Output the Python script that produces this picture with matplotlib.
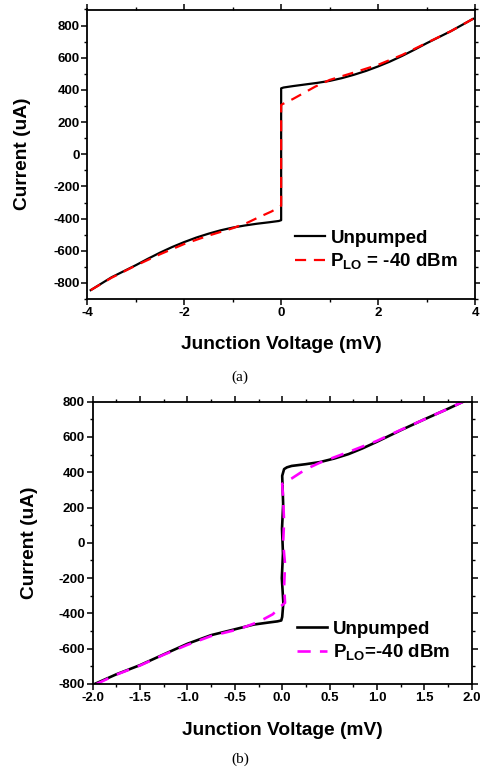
import numpy as np
import matplotlib.pyplot as plt
from matplotlib.ticker import MultipleLocator

# panel (a): junction I-V, unpumped vs LO pumped
va_unpumped = [-3.93, -3.5, -3.0, -2.75, -2.5, -2.25, -2.0, -1.75, -1.5, -1.25, -1.0,
               -0.75, -0.5, -0.25, -0.05, 0.0,
               0.0, 0.05, 0.25, 0.5, 0.75, 1.0, 1.25, 1.5, 1.75, 2.0, 2.25, 2.5, 2.75,
               3.0, 3.5, 3.96]
ia_unpumped = [-845, -765, -690, -650, -612, -577, -546, -518, -494, -473, -456,
               -443, -432, -423, -415, -410,
               410, 415, 424, 434, 444, 456, 473, 494, 518, 546, 577, 612, 650,
               690, 765, 842]
va_pumped = [-3.93, -3.5, -3.0, -2.5, -2.0, -1.5, -1.0, -0.7, -0.45, -0.2, -0.03, 0.0,
             0.0, 0.03, 0.24, 0.45, 0.7, 1.0, 1.5, 2.0, 2.5, 3.0, 3.5, 3.96]
ia_pumped = [-845, -768, -692, -622, -558, -506, -460, -426, -390, -356, -327, -320,
             306, 312, 343, 378, 420, 462, 508, 556, 618, 692, 765, 842]

# panel (b)
vb_unpumped = [-1.98, -1.75, -1.5, -1.25, -1.0, -0.75, -0.5, -0.3, -0.15, -0.05, -0.01,
               0.0, 0.012, -0.004, 0.008, -0.002, 0.01, 0.0, 0.02, 0.05, 0.1, 0.25, 0.4,
               0.55, 0.7, 0.85, 1.0, 1.25, 1.5, 1.75, 1.91]
ib_unpumped = [-800, -745, -693, -632, -572, -523, -490, -463, -452, -445, -440,
               -420, -340, -200, -60, 80, 220, 380, 418, 428, 436, 446, 458,
               478, 503, 536, 573, 638, 700, 760, 800]
vb_pumped = [-1.96, -1.75, -1.5, -1.25, -1.0, -0.75, -0.5, -0.4, -0.25, -0.1, -0.02,
             0.03, 0.02, 0.03, 0.01, 0.02, 0.01, 0.0, 0.1, 0.2, 0.3, 0.4, 0.5,
             0.7, 1.0, 1.25, 1.5, 1.75, 1.91]
ib_pumped = [-800, -747, -695, -634, -578, -528, -495, -478, -448, -405, -362,
             -340, -250, -120, 0, 120, 250, 335, 365, 400, 430, 455, 475,
             515, 578, 640, 700, 760, 800]

plt.rcParams['font.family'] = ['Liberation Sans', 'DejaVu Sans']
plt.rcParams['font.weight'] = 'bold'
plt.rcParams['axes.unicode_minus'] = False

fig = plt.figure(figsize=(4.8, 7.72), dpi=100)
W, H = 480.0, 772.0


def style_axes(ax, tick_fs):
    for s in ax.spines.values():
        s.set_linewidth(1.3)
    ax.tick_params(axis='both', which='major', direction='out', length=4, width=1.1,
                   labelsize=tick_fs, pad=1.5)
    ax.tick_params(axis='both', which='minor', direction='out', length=2.5, width=1.0)
    ax.tick_params(top=True, right=True, which='both')
    for lab in ax.get_xticklabels() + ax.get_yticklabels():
        lab.set_fontweight('bold')


# (a)
ax1 = fig.add_axes([87.3 / W, 1 - 299 / H, (475 - 87.3) / W, (299 - 9.5) / H])
ax1.plot(va_unpumped, ia_unpumped, color='black', lw=1.6, label='Unpumped')
ax1.plot(va_pumped, ia_pumped, color='red', lw=1.6, ls=(0, (5, 3.5)),
         label=r'P$_{\mathregular{LO}}$ = -40 dBm')
ax1.set_xlim(-4, 4)
ax1.set_ylim(-900, 900)
ax1.xaxis.set_major_locator(MultipleLocator(2))
ax1.xaxis.set_minor_locator(MultipleLocator(1))
ax1.yaxis.set_major_locator(MultipleLocator(200))
ax1.yaxis.set_minor_locator(MultipleLocator(100))
style_axes(ax1, 9.5)
ax1.set_xlabel('Junction Voltage (mV)', fontsize=13.8, fontweight='bold', labelpad=12.5)
ax1.set_ylabel('Current (uA)', fontsize=13.8, fontweight='bold', labelpad=16)
ax1.legend(loc='lower right', frameon=False, fontsize=13.5, handlelength=1.6,
           handletextpad=0.3, labelspacing=0.25, bbox_to_anchor=(1.0, 0.036))
fig.text(240 / W, 1 - 377 / H, '(a)', ha='center', va='center',
         family='Liberation Serif', fontweight='normal', fontsize=11)

# (b)
ax2 = fig.add_axes([92.7 / W, 1 - 684 / H, (471.7 - 92.7) / W, (684 - 401.7) / H])
ax2.plot(vb_unpumped, ib_unpumped, color='black', lw=1.9, label='Unpumped')
ax2.plot(vb_pumped, ib_pumped, color='#ff00ff', lw=1.9, ls=(0, (5, 3.5)),
         label=r'P$_{\mathregular{LO}}$=-40 dBm')
ax2.set_xlim(-2, 2)
ax2.set_ylim(-800, 800)
ax2.xaxis.set_major_locator(MultipleLocator(0.5))
ax2.xaxis.set_minor_locator(MultipleLocator(0.25))
ax2.yaxis.set_major_locator(MultipleLocator(200))
ax2.yaxis.set_minor_locator(MultipleLocator(100))
ax2.xaxis.set_major_formatter(plt.FormatStrFormatter('%.1f'))
style_axes(ax2, 9.5)
ax2.set_xlabel('Junction Voltage (mV)', fontsize=13.8, fontweight='bold', labelpad=13)
ax2.set_ylabel('Current (uA)', fontsize=13.8, fontweight='bold', labelpad=15)
ax2.legend(loc='lower right', frameon=False, fontsize=13.5, handlelength=1.6,
           handletextpad=0.3, labelspacing=0.25, bbox_to_anchor=(0.988, 0.016))
fig.text(240 / W, 1 - 759 / H, '(b)', ha='center', va='center',
         family='Liberation Serif', fontweight='normal', fontsize=11)

fig.savefig('out.png', dpi=100)
